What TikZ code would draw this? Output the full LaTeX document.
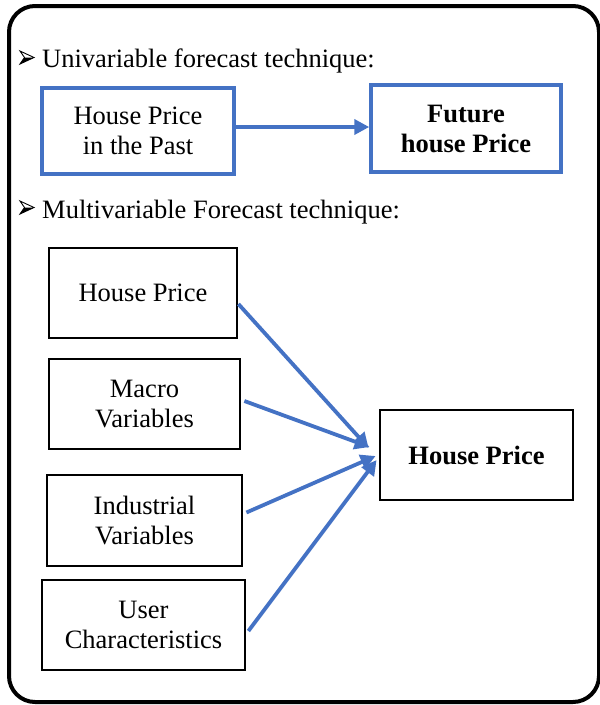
\documentclass[tikz,border=0pt]{standalone}
\usepackage{fontspec}
\setmainfont{Liberation Serif}
\usetikzlibrary{arrows.meta}
\definecolor{wordblue}{RGB}{68,114,196}
\tikzset{
  txt/.style={font=\fontsize{26.5}{30}\selectfont, align=center, inner sep=0pt},
  bluebox/.style={txt, draw=wordblue, line width=3.5pt},
  blackbox/.style={txt, draw=black, line width=2.8pt},
  flow/.style={draw=wordblue, line width=3.8pt, -{Triangle[length=15pt,width=15pt]}},
  heading/.style={font=\fontsize{26.5}{30}\selectfont, anchor=base west, inner sep=0pt},
  % three-dimensional arrowhead bullet, drawn relative to the text baseline
  pointer/.pic={
    \draw[line width=0.9pt, line join=miter] (0,-15) -- (14,-8.5) -- (0,-2) -- (4.5,-8.5) -- cycle;
    \fill (0,-2) -- (14,-8.5) -- (4.5,-8.5) -- cycle;
  },
}
\begin{document}
\begin{tikzpicture}[x=1pt,y=-1pt]
\useasboundingbox (0,0) rectangle (600,705);
% outer frame
\draw[line width=4pt, rounded corners=26pt] (9,6) rectangle (599,702);

% univariable part
\pic at (20,66) {pointer};
\node[heading] (h1) at (42,67) {Univariable forecast technique:};
\node[bluebox, minimum width=192pt, minimum height=86pt] (past) at (138,131) {House Price\\in the Past};
\node[bluebox, minimum width=190pt, minimum height=87pt, font=\fontsize{26.5}{30}\selectfont\bfseries] (future) at (466,128.5) {Future\\house Price};
\draw[flow] ([yshift=4pt]past.east) -- ([yshift=4pt]past.east -| future.west);

% multivariable part
\pic at (20,216) {pointer};
\node[heading] (h2) at (42,218) {Multivariable Forecast technique:};
\node[blackbox, minimum width=188pt, minimum height=90pt] (hp) at (143,293) {House Price};
\node[blackbox, minimum width=191pt, minimum height=90pt] (macro) at (144.5,404) {Macro\\Variables};
\node[blackbox, minimum width=195pt, minimum height=91pt] (ind) at (144.5,520.5) {Industrial\\Variables};
\node[blackbox, minimum width=203pt, minimum height=90pt] (user) at (143.5,625) {User\\Characteristics};
\node[blackbox, minimum width=193pt, minimum height=90pt, font=\fontsize{26.5}{30}\selectfont\bfseries] (target) at (476.5,455) {House Price};

\draw[flow] ([yshift=-11pt]hp.east) -- ([xshift=-10pt,yshift=7pt]target.west);
\draw[flow] ([xshift=3pt,yshift=3pt]macro.east) -- ([xshift=-9pt,yshift=8pt]target.west);
\draw[flow] ([xshift=3pt,yshift=8pt]ind.east) -- ([xshift=-3pt,yshift=-1pt]target.west);
\draw[flow] ([xshift=2pt,yshift=-6pt]user.east) -- ([xshift=-2pt,yshift=-5pt]target.west);
\end{tikzpicture}
\end{document}
